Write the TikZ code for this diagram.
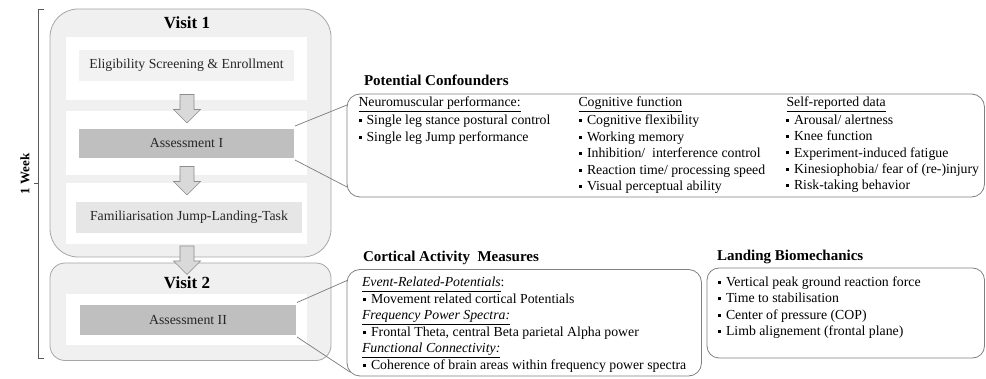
\documentclass[tikz,border=0pt]{standalone}
\usepackage{fontspec}
\setmainfont{Liberation Serif}

\definecolor{visitfill}{HTML}{F0F0F0}
\definecolor{visitline}{HTML}{A6A6A6}
\definecolor{lightbox}{HTML}{F2F2F2}
\definecolor{darkbox}{HTML}{BFBFBF}
\definecolor{patbox}{HTML}{E6E6E6}
\definecolor{arrowfill}{HTML}{D9D9D9}
\definecolor{arrowline}{HTML}{8C8C8C}
\definecolor{connline}{HTML}{7A7A7A}
\definecolor{frameline}{HTML}{808080}
\definecolor{bracketline}{HTML}{595959}
\definecolor{boxtext}{HTML}{262626}

\newcommand{\bodysize}{\fontsize{13.8}{16.5}\selectfont}
\newcommand{\titlesize}{\fontsize{15}{18}\selectfont}
\newcommand{\visitsize}{\fontsize{17}{20}\selectfont}
\newcommand{\bul}{\rule[2.6pt]{3pt}{3pt}\hspace{5pt}}
\newcommand{\hd}[1]{\underline{#1\vphantom{p}}}

\begin{document}
\begin{tikzpicture}[x=1pt,y=-1pt,font=\bodysize,
  every node/.style={inner sep=0pt,outer sep=0pt},
  visitbox/.style={draw=visitline,fill=visitfill,line width=0.8pt},
  band/.style={fill=white,draw=none},
  stepbox/.style={draw=none,text=boxtext},
  framebox/.style={draw=frameline,line width=0.8pt,rounded corners=13pt},
  conn/.style={draw=connline,line width=0.7pt},
  blockarrow/.style={draw=arrowline,fill=arrowfill,line width=0.7pt},
  txt/.style={anchor=base west},
  title/.style={anchor=base west,font=\titlesize\bfseries},
  downarrow/.pic={\draw[blockarrow] (-7,0) -- (7,0) -- (7,15) -- (13.5,15)
      -- (0,28.5) -- (-13.5,15) -- (-7,15) -- cycle;}]
\useasboundingbox (0,0) rectangle (986,379);

% ---- time bracket ----
\draw[bracketline,line width=1pt] (44,10) -- (38,10) -- (38,359) -- (44,359);
\draw[bracketline,line width=1pt] (38,184) -- (34,184);
\node[rotate=90,font=\fontsize{13}{15}\selectfont\bfseries] (week) at (25,174) {1 Week};

% ---- visit 1 ----
\node[visitbox,rounded corners=28pt,minimum width=281,minimum height=248] (visit1) at (190.5,133) {};
\node[anchor=base,font=\visitsize\bfseries] (v1title) at (187,28.5) {Visit 1};
\node[band,minimum width=241,minimum height=63] (band1) at (186.5,68.5) {};
\node[band,minimum width=241,minimum height=64] (band2) at (186.5,143) {};
\node[band,minimum width=241,minimum height=61] (band3) at (186.5,214) {};
\node[stepbox,fill=lightbox,minimum width=215,minimum height=31] (elig) at (186.5,65.5) {Eligibility Screening \& Enrollment};
\node[stepbox,fill=darkbox,minimum width=215,minimum height=29] (a1) at (186.5,143.5) {Assessment I};
\node[stepbox,fill=patbox,minimum width=226,minimum height=31] (fam) at (189,217.5) {Familiarisation Jump-Landing-Task};

% ---- visit 2 ----
\node[visitbox,rounded corners=15pt,minimum width=281,minimum height=97.5] (visit2) at (190.5,311.75) {};
\node[anchor=base,font=\visitsize\bfseries] (v2title) at (187,289) {Visit 2};
\node[band,minimum width=241,minimum height=51] (band4) at (186.5,319.5) {};
\node[stepbox,fill=darkbox,minimum width=216,minimum height=30] (a2) at (188,320) {Assessment II};

% ---- flow arrows ----
\pic (arr1) at (187,94.5) {downarrow};
\pic (arr2) at (187,166.5) {downarrow};
\pic (arr3) at (187,246) {downarrow};

% ---- potential confounders ----
\node[title] (conftitle) at (364,86) {Potential Confounders};
\node[framebox,minimum width=637.5,minimum height=103] (conf) at (665.75,145.5) {};

\node[txt] (nmhead) at (358.5,106.5) {\hd{Neuromuscular performance:}};
\foreach \t [count=\i from 0] in {Single leg stance postural control,Single leg Jump performance}
  \node[txt] (nm\i) at (358.5,125+16.8*\i) {\bul\t};

\node[txt] (coghead) at (578.5,106.5) {\hd{Cognitive function}};
\foreach \t [count=\i from 0] in {Cognitive flexibility,Working memory,Inhibition/\ \ interference control,Reaction time/ processing speed,Visual perceptual ability}
  \node[txt] (cog\i) at (579,125+16.4*\i) {\bul\t};

\node[txt] (selfhead) at (786.5,106.5) {\hd{Self-reported data}};
\foreach \t [count=\i from 0] in {Arousal/ alertness,Knee function,Experiment-induced fatigue,Kinesiophobia/ fear of (re-)injury,Risk-taking behavior}
  \node[txt] (self\i) at (786,124.5+16.3*\i) {\bul\t};

% ---- cortical activity measures ----
\node[title] (corttitle) at (363,261.5) {Cortical Activity\ \ Measures};
\node[framebox,minimum width=354.5,minimum height=106.5] (cort) at (524.25,322.75) {};
\node[txt] (erp) at (362,287) {\hd{\itshape Event-Related-Potentials}:};
\node[txt] (erp1) at (363,304) {\bul Movement related cortical Potentials};
\node[txt] (fps) at (362,320) {\hd{\itshape Frequency Power Spectra:}};
\node[txt] (fps1) at (363,337) {\bul Frontal Theta, central Beta parietal Alpha power};
\node[txt] (fc) at (362,353) {\hd{\itshape Functional Connectivity:}};
\node[txt] (fc1) at (363,370) {\bul Coherence of brain areas within frequency power spectra};

% ---- landing biomechanics ----
\node[title] (landtitle) at (717,260.5) {Landing Biomechanics};
\node[framebox,rounded corners=12pt,minimum width=277.5,minimum height=90] (land) at (845.75,313) {};
\foreach \t [count=\i from 0] in {Vertical peak ground reaction force,Time to stabilisation,Center of pressure (COP),Limb alignement (frontal plane)}
  \node[txt] (land\i) at (718,286.5+16.5*\i) {\bul\t};

% ---- links from assessments to measures ----
\draw[conn] ([shift={(1,-3)}]a1.north east) -- ([shift={(0,11)}]conf.north west);
\draw[conn] ([shift={(1,2)}]a1.south east) -- ([shift={(0,-10)}]conf.south west);
\draw[conn] ([shift={(1,-2.5)}]a2.north east) -- ([shift={(0,11)}]cort.north west);
\draw[conn] ([shift={(1,2)}]a2.south east) -- ([shift={(3,-4)}]cort.south west);
\end{tikzpicture}
\end{document}
